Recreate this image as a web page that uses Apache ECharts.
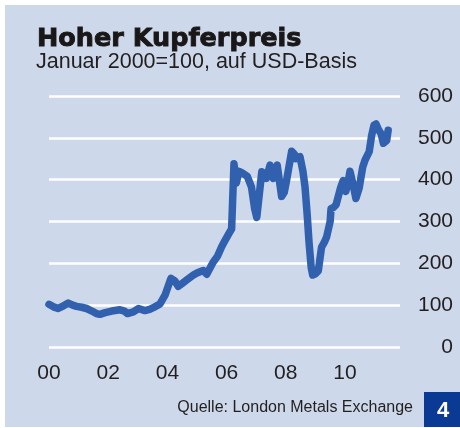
<!DOCTYPE html>
<html lang="de">
<head>
  <meta charset="UTF-8">
  <script src="https://cdn.jsdelivr.net/npm/echarts@6/dist/echarts.min.js"></script>
  <style>
    body { margin: 0; background: #ffffff; }
    #main { width: 460px; height: 428px; }
  </style>
  <title>Hoher Kupferpreis</title>
</head>
<body>
  <div id="main"></div>
  <script>
    // Zeit in Jahren seit Januar 2000
    const years = [
      0.00, 0.15, 0.31, 0.45, 0.65, 0.80, 0.93, 1.10, 1.27, 1.45, 1.60, 1.72, 1.90,
      2.12, 2.40, 2.55, 2.65, 2.85, 3.02, 3.24, 3.40, 3.58, 3.75, 3.92, 4.05, 4.12,
      4.25, 4.37, 4.50, 4.65, 4.88, 5.00, 5.21, 5.33, 5.45, 5.55, 5.70, 5.83, 5.95,
      6.11, 6.17, 6.25, 6.33, 6.42, 6.55, 6.70, 6.84, 6.95, 7.02, 7.08, 7.19, 7.27,
      7.35, 7.47, 7.58, 7.71, 7.80, 7.86, 7.95, 8.03, 8.20, 8.30, 8.34, 8.48, 8.58,
      8.65, 8.72, 8.79, 8.86, 8.91, 9.00, 9.10, 9.21, 9.30, 9.38, 9.50, 9.53, 9.62,
      9.70, 9.85, 9.94, 10.03, 10.10, 10.17, 10.27, 10.37, 10.48, 10.60, 10.68, 10.82,
      10.90, 10.98, 11.05, 11.13, 11.22, 11.30, 11.41, 11.46
    ];
    // Kupferpreis-Index, Januar 2000 = 100
    const index = [
      102, 96, 92, 97, 105, 100, 97, 95, 92, 86, 80, 78, 82,
      86, 89, 86, 80, 84, 92, 87, 90, 96, 103, 124, 150, 164,
      158, 145, 152, 160, 172, 177, 183, 174, 190, 203, 218, 239, 255,
      275, 282, 438, 392, 420, 415, 408, 383, 330, 310, 312, 419, 412,
      403, 435, 403, 435, 390, 360, 370, 399, 468, 460, 450, 455, 420,
      383, 320, 247, 190, 172, 175, 182, 239, 250, 263, 300, 331, 334,
      340, 380, 398, 372, 392, 420, 390, 355, 380, 430, 447, 467,
      505, 530, 533, 520, 510, 487, 494, 518
    ];
    const xTicks = ['00', '02', '04', '06', '08', '10'];
    const yTicks = [0, 100, 200, 300, 400, 500, 600];

    const textColor = '#231f20';
    const chart = echarts.init(document.getElementById('main'));

    const option = {
      animation: false,
      graphic: [
        { type: 'rect', z: -10, shape: { x: 5, y: 5, width: 455, height: 422 }, style: { fill: '#cdd8ea' } },
        { type: 'text', style: { x: 37, y: 39, text: 'Hoher Kupferpreis', font: 'bold 25.5px "DejaVu Sans"', fill: '#1a1718', stroke: '#1a1718', lineWidth: 0.9, textVerticalAlign: 'middle' } },
        { type: 'text', style: { x: 36, y: 62, text: 'Januar 2000=100, auf USD-Basis', font: '21.5px "Liberation Sans"', fill: textColor, textVerticalAlign: 'middle' } },
        { type: 'text', style: { x: 413, y: 408, text: 'Quelle: London Metals Exchange', font: '16px "Liberation Sans"', fill: textColor, textAlign: 'right', textVerticalAlign: 'middle' } },
        { type: 'rect', shape: { x: 424, y: 392, width: 36, height: 35 }, style: { fill: '#0b3a94' } },
        { type: 'text', style: { x: 443, y: 411, text: '4', font: 'bold 22px "Liberation Sans"', fill: '#ffffff', textAlign: 'center', textVerticalAlign: 'middle' } }
      ],
      grid: { left: 49, top: 96, width: 351, height: 251 },
      xAxis: {
        type: 'value',
        min: 0,
        max: 11.86,
        interval: 2,
        axisLine: { show: false },
        axisTick: { show: false },
        splitLine: { show: false },
        axisLabel: {
          showMaxLabel: false,
          margin: 16,
          color: textColor,
          fontSize: 21,
          fontFamily: 'Liberation Sans',
          formatter: v => xTicks[v / 2] || ''
        }
      },
      yAxis: {
        type: 'value',
        position: 'right',
        min: yTicks[0],
        max: yTicks[yTicks.length - 1],
        interval: 100,
        axisLine: { show: false },
        axisTick: { show: false },
        splitLine: { lineStyle: { color: '#ffffff', width: 2.5 } },
        axisLabel: {
          align: 'right',
          margin: 53,
          color: textColor,
          fontSize: 21,
          fontFamily: 'Liberation Sans'
        }
      },
      series: [{
        type: 'line',
        showSymbol: false,
        data: years.map((t, i) => [t, index[i]]),
        lineStyle: { color: '#3161ae', width: 7.5, join: 'round', cap: 'round' }
      }]
    };

    chart.setOption(option);
  </script>
</body>
</html>
